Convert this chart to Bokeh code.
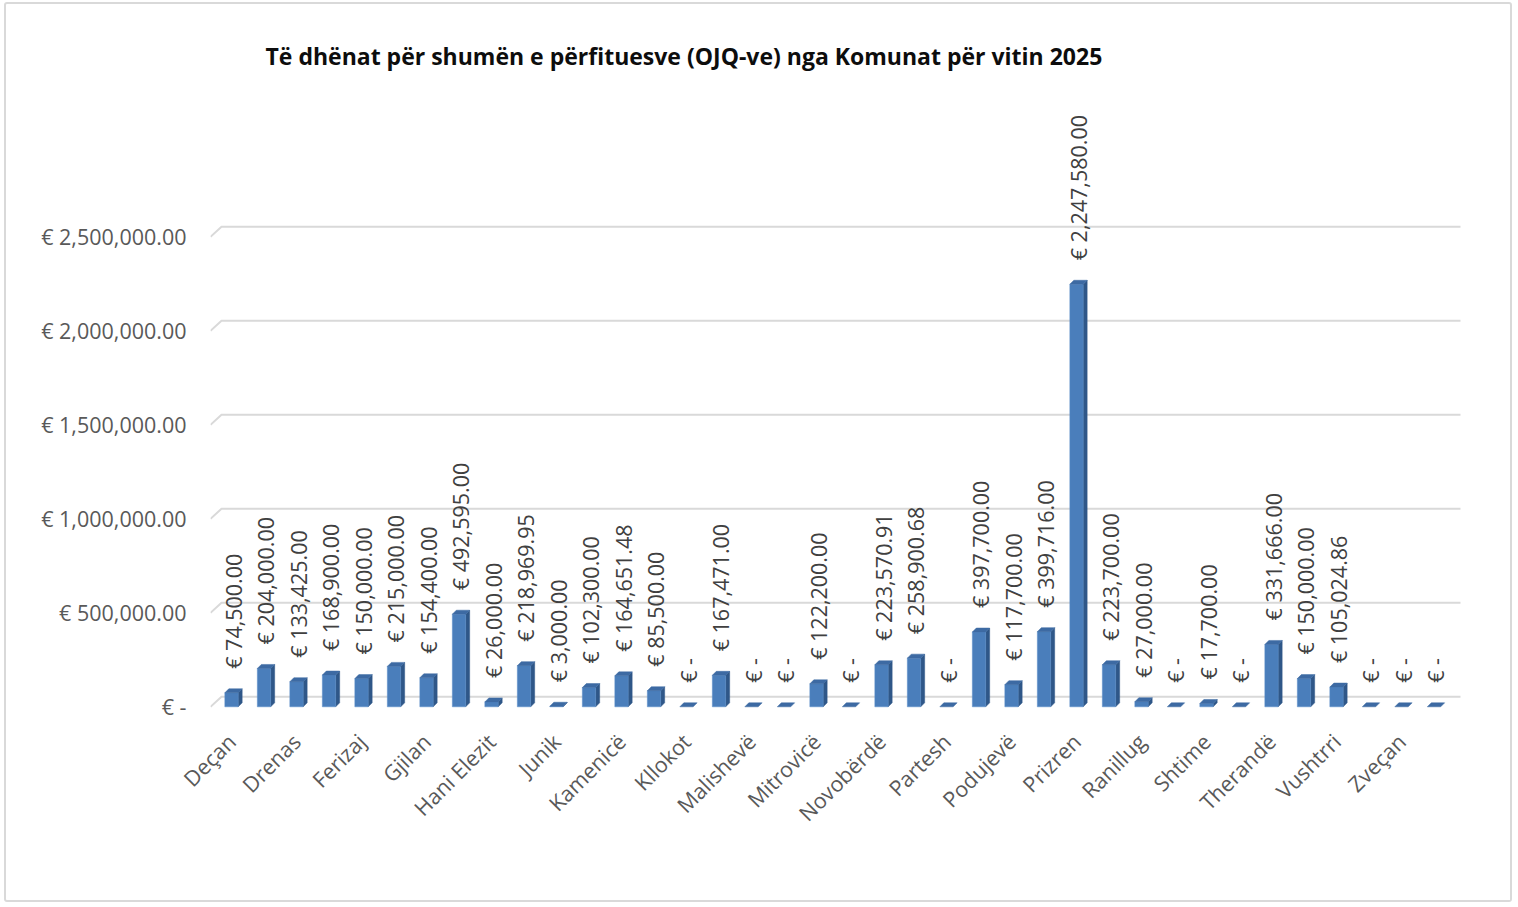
import math
from bokeh.plotting import figure
from bokeh.models import FixedTicker, ColumnDataSource, Range1d
from bokeh.core.properties import value
from bokeh.embed import file_html
from bokeh.resources import INLINE

chart_title = "Të dhënat për shumën e përfituesve (OJQ-ve) nga Komunat për vitin 2025"

municipalities = [
    "Deçan", "Dragash", "Drenas", "Fushë Kosovë", "Ferizaj", "Gjakovë", "Gjilan", "Graçanicë",
    "Hani Elezit", "Istog", "Junik", "Kaçanik", "Kamenicë", "Klinë", "Kllokot", "Lipjan",
    "Malishevë", "Mamushë", "Mitrovicë", "Mitrovicë e Veriut", "Novobërdë", "Obiliq", "Partesh",
    "Pejë", "Podujevë", "Prishtinë", "Prizren", "Rahovec", "Ranillug", "Skenderaj", "Shtime",
    "Shtërpcë", "Therandë", "Viti", "Vushtrri", "Zubin Potok", "Zveçan", "Leposaviq",
]

amounts = [
    74500.00, 204000.00, 133425.00, 168900.00, 150000.00, 215000.00, 154400.00, 492595.00,
    26000.00, 218969.95, 3000.00, 102300.00, 164651.48, 85500.00, 0, 167471.00,
    0, 0, 122200.00, 0, 223570.91, 258900.68, 0,
    397700.00, 117700.00, 399716.00, 2247580.00, 223700.00, 27000.00, 0, 17700.00,
    0, 331666.00, 150000.00, 105024.86, 0, 0, 0,
]

y_ticks = [0, 500000, 1000000, 1500000, 2000000, 2500000]
shown_labels = list(range(0, len(municipalities), 2))

# ---- layout constants (pixels) ----
W, H = 1508, 900
MB_L, MB_R, MB_T, MB_B = 204, 52, 100, 193
FRAME_W = W - MB_L - MB_R
FRAME_H = H - MB_T - MB_B
PX_X = 32.5                 # px per category step
PX_Y = 94.0 / 500000        # px per euro
X0 = -0.646
Y0 = -4.7 / PX_Y

x_range = Range1d(X0, X0 + FRAME_W / PX_X)
y_range = Range1d(Y0, Y0 + FRAME_H / PX_Y)

p = figure(width=W, height=H, x_range=x_range, y_range=y_range,
           output_backend="svg", toolbar_location=None,
           min_border_left=MB_L, min_border_right=MB_R,
           min_border_top=MB_T, min_border_bottom=MB_B)
p.styles = {"border": "2px solid #d9d9d9", "border-radius": "3px",
            "margin-left": "4px", "margin-top": "2px"}
p.background_fill_color = "white"
p.border_fill_color = "white"
p.outline_line_color = None
p.grid.visible = False

# ---- back-wall gridlines ----
gdx = 11 / PX_X
gdy = 10 / PX_Y
x_back_end = (1460 - 231) / PX_X
p.multi_line(xs=[[X0, X0 + gdx, x_back_end] for _ in y_ticks],
             ys=[[t, t + gdy, t + gdy] for t in y_ticks],
             line_color="#d9d9d9", line_width=2)

# ---- 3D bars ----
half = 0.205
bdx = 4 / PX_X
bdy = 4 / PX_Y
xs_idx = list(range(len(amounts)))

side_xs, side_ys, top_xs, top_ys = [], [], [], []
f_left, f_right, f_top = [], [], []
for i, v in zip(xs_idx, amounts):
    r = i + half
    l = i - half
    top_xs.append([l, r, r + bdx, l + bdx])
    top_ys.append([v, v, v + bdy, v + bdy])
    if v > 0:
        side_xs.append([r, r + bdx, r + bdx, r])
        side_ys.append([0, bdy, v + bdy, v])
        f_left.append(l)
        f_right.append(r)
        f_top.append(v)

p.patches(side_xs, side_ys, fill_color="#2f5788", line_color="#2f5788", line_width=0.5)
p.quad(left=f_left, right=f_right, bottom=0, top=f_top,
       fill_color="#4a7ebb", line_color="#5a8cc8", line_width=0.5)
p.patches(top_xs, top_ys, fill_color="#3d6aa3", line_color="#3d6aa3", line_width=0.5)

# ---- data labels ----
label_gap = 20 / PX_Y
lab_src = ColumnDataSource(dict(
    x=[i + 0.06 for i in xs_idx],
    y=[v + bdy + label_gap for v in amounts],
    t=[f"€ {v:,.2f}" if v > 0 else "€ -" for v in amounts],
))
p.text(x="x", y="y", text="t", source=lab_src, angle=math.pi / 2,
       text_align="left", text_baseline="middle",
       text_font=value("Open Sans"), text_font_size="21.5px", text_color="#404040")

# ---- axes ----
p.yaxis.ticker = FixedTicker(ticks=y_ticks)
p.yaxis.major_label_overrides = {t: (f"€ {t:,.2f}" if t > 0 else "€ -") for t in y_ticks}
p.yaxis.axis_line_color = None
p.yaxis.major_tick_line_color = None
p.yaxis.minor_tick_line_color = None
p.yaxis.major_label_standoff = 18
p.yaxis.major_label_text_font = "Open Sans"
p.yaxis.major_label_text_font_size = "21.5px"
p.yaxis.major_label_text_color = "#595959"

p.xaxis.ticker = FixedTicker(ticks=shown_labels)
p.xaxis.major_label_overrides = {i: municipalities[i] for i in shown_labels}
p.xaxis.major_label_orientation = math.pi / 4
p.xaxis.axis_line_color = None
p.xaxis.major_tick_line_color = None
p.xaxis.minor_tick_line_color = None
p.xaxis.major_label_standoff = 20
p.xaxis.major_label_text_font = "Open Sans"
p.xaxis.major_label_text_font_size = "21.5px"
p.xaxis.major_label_text_color = "#595959"

# ---- title ----
p.title.text = chart_title
p.title.text_font = "Open Sans"
p.title.text_font_style = "bold"
p.title.text_font_size = "23px"
p.title.text_color = "#0d0d0d"
p.title.align = "left"
p.title.offset = 55
p.title.standoff = 65

open("out.html", "w").write(file_html(p, INLINE))
